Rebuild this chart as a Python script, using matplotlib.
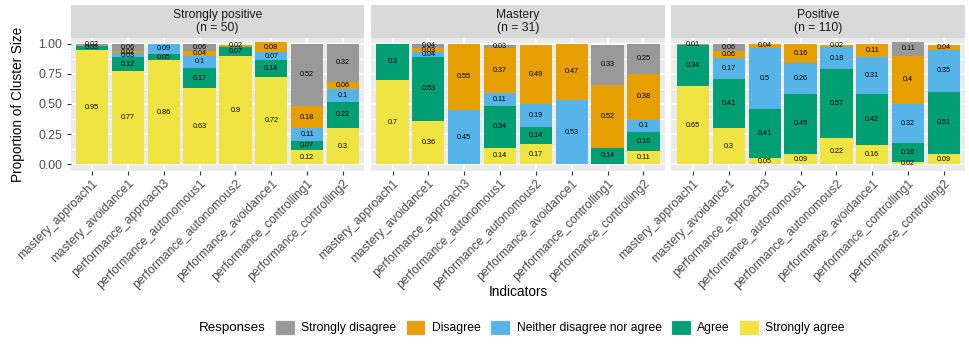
import matplotlib
matplotlib.use("Agg")
import matplotlib.pyplot as plt
from matplotlib.patches import Patch
import numpy as np

plt.rcParams['font.family'] = ['Liberation Sans', 'DejaVu Sans']

# Indicators shown on the x axis of every facet
categories = ['mastery_approach1', 'mastery_avoidance1', 'performance_approach3',
              'performance_autonomous1', 'performance_autonomous2', 'performance_avoidance1',
              'performance_controlling1', 'performance_controlling2']

# Response levels (legend order) and their fill colours
responses = ['Strongly disagree', 'Disagree', 'Neither disagree nor agree', 'Agree', 'Strongly agree']
colors = ['#999999', '#E69F00', '#56B4E9', '#009E73', '#F0E442']

# Cluster facets
clusters = ['Strongly positive\n(n = 50)', 'Mastery\n(n = 31)', 'Positive\n(n = 110)']

# Proportions per cluster and response level (one value per indicator)
strongly_positive_sd = [0.02, 0.06, 0.00, 0.06, 0.00, 0.00, 0.52, 0.32]
strongly_positive_d = [0.00, 0.02, 0.00, 0.04, 0.02, 0.08, 0.18, 0.06]
strongly_positive_n = [0.00, 0.03, 0.09, 0.10, 0.00, 0.07, 0.11, 0.10]
strongly_positive_a = [0.03, 0.12, 0.05, 0.17, 0.07, 0.14, 0.07, 0.22]
strongly_positive_sa = [0.95, 0.77, 0.86, 0.63, 0.90, 0.72, 0.12, 0.30]

mastery_sd = [0.00, 0.04, 0.00, 0.03, 0.00, 0.00, 0.33, 0.25]
mastery_d = [0.00, 0.03, 0.55, 0.37, 0.49, 0.47, 0.52, 0.38]
mastery_n = [0.00, 0.04, 0.45, 0.11, 0.19, 0.53, 0.00, 0.10]
mastery_a = [0.30, 0.53, 0.00, 0.34, 0.14, 0.00, 0.14, 0.16]
mastery_sa = [0.70, 0.36, 0.00, 0.14, 0.17, 0.00, 0.00, 0.11]

positive_sd = [0.01, 0.06, 0.00, 0.00, 0.00, 0.00, 0.11, 0.00]
positive_d = [0.00, 0.06, 0.04, 0.16, 0.02, 0.11, 0.40, 0.04]
positive_n = [0.00, 0.17, 0.50, 0.26, 0.18, 0.31, 0.32, 0.35]
positive_a = [0.34, 0.41, 0.41, 0.49, 0.57, 0.42, 0.16, 0.51]
positive_sa = [0.65, 0.30, 0.05, 0.09, 0.22, 0.16, 0.02, 0.09]

cluster_data = [
    [strongly_positive_sd, strongly_positive_d, strongly_positive_n, strongly_positive_a, strongly_positive_sa],
    [mastery_sd, mastery_d, mastery_n, mastery_a, mastery_sa],
    [positive_sd, positive_d, positive_n, positive_a, positive_sa],
]

W, H = 970, 344
fig = plt.figure(figsize=(W / 100, H / 100), dpi=100)

def px_rect(left, top, width, height):
    return [left / W, 1 - (top + height) / H, width / W, height / H]

panel_left = 70.5
panel_w = 294.0
gap = 6.5
panel_top = 37.5
panel_h = 133.0
strip_top = 5.0

fmt = lambda v: ('%.2f' % v).rstrip('0').rstrip('.')

x = np.arange(len(categories))
for k, (title, data) in enumerate(zip(clusters, cluster_data)):
    left = panel_left + k * (panel_w + gap)
    ax = fig.add_axes(px_rect(left, panel_top, panel_w, panel_h))
    ax.set_facecolor('#EBEBEB')
    ax.set_xlim(-0.6, len(categories) - 0.4)
    ax.set_ylim(-0.05, 1.05)
    ax.set_yticks([0, 0.25, 0.5, 0.75, 1.0])
    ax.set_yticks([0.125, 0.375, 0.625, 0.875], minor=True)
    ax.set_xticks(x)
    ax.grid(True, which='major', color='white', linewidth=1.1)
    ax.grid(True, which='minor', axis='y', color='white', linewidth=0.55)
    ax.set_axisbelow(True)
    for s in ax.spines.values():
        s.set_visible(False)
    ax.tick_params(axis='both', which='major', length=2.75, width=0.8, color='#333333',
                   labelsize=8.7, labelcolor='#4D4D4D')
    ax.tick_params(axis='y', which='minor', length=0)
    ax.tick_params(axis='y', pad=3.2)
    ax.tick_params(axis='x', pad=2.0)
    ax.set_xticklabels(categories, rotation=45, ha='right', va='top', rotation_mode='anchor')
    if k == 0:
        ax.set_yticklabels(['0.00', '0.25', '0.50', '0.75', '1.00'])
    else:
        ax.set_yticklabels([])
        ax.tick_params(axis='y', which='major', length=0)

    # stack from "Strongly agree" at the bottom up to "Strongly disagree"
    bottom = np.zeros(len(categories))
    for level in range(len(responses) - 1, -1, -1):
        vals = np.array(data[level], dtype=float)
        ax.bar(x, vals, width=0.9, bottom=bottom, color=colors[level], linewidth=0)
        for xi, v, b in zip(x, vals, bottom):
            if v > 0:
                ax.text(xi, b + v / 2, fmt(v), ha='center', va='center',
                        fontsize=5.2, color='black')
        bottom = bottom + vals

    # facet strip
    sax = fig.add_axes(px_rect(left, strip_top, panel_w, panel_top - strip_top))
    sax.set_facecolor('#D9D9D9')
    sax.set_xticks([])
    sax.set_yticks([])
    for s in sax.spines.values():
        s.set_visible(False)
    sax.text(0.5, 0.5, title, ha='center', va='center', fontsize=8.7,
             color='#1A1A1A', transform=sax.transAxes, linespacing=1.1)

# axis titles
fig.text(17.7 / W, 1 - (panel_top + panel_h * 0.5) / H, 'Proportion of Cluster Size',
         rotation=90, ha='center', va='center', fontsize=9.8, color='black')
center_x = (panel_left + (3 * panel_w + 2 * gap) / 2) / W
fig.text(center_x, 1 - 292 / H, 'Indicators', ha='center', va='center',
         fontsize=9.8, color='black')

# legend laid out in one row with its title on the left
handles = [Patch(facecolor=c, edgecolor='#F2F2F2', linewidth=0.8, label=r)
           for c, r in zip(colors, responses)]
leg_y = 1 - 327.5 / H
leg = fig.legend(handles=handles, loc='center', bbox_to_anchor=(center_x, leg_y),
                 ncol=5, frameon=False, fontsize=8.7, handlelength=1.65, handleheight=1.65,
                 handletextpad=0.55, columnspacing=0.75, borderpad=0, borderaxespad=0)
title_txt = fig.text(0, leg_y, 'Responses', ha='left', va='center', fontsize=9.6, color='black')

fig.canvas.draw()
r = fig.canvas.get_renderer()
lb = leg.get_window_extent(r)
tb = title_txt.get_window_extent(r)
title_gap = 9.0
total = tb.width + title_gap + lb.width
start = center_x * W + 4 - total / 2
title_txt.set_x(start / W)
leg_center = start + tb.width + title_gap + lb.width / 2
leg.set_bbox_to_anchor((leg_center / W, leg_y), transform=fig.transFigure)

fig.savefig('out.png', dpi=100)
